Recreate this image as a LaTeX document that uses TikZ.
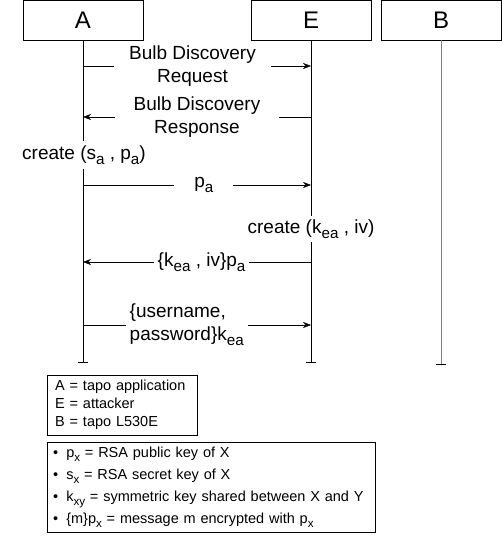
\documentclass[tikz,border=0pt]{standalone}
\usepackage{fontspec}
\setmainfont{Liberation Sans}
\usetikzlibrary{arrows.meta}
\newcommand{\low}[1]{\raisebox{-.28em}{\scalebox{.8}{#1}}}
\tikzset{actor/.style={draw,minimum width=120,minimum height=40,inner sep=0pt,font=\fontsize{24}{28}\selectfont},
msg/.style={-{Stealth[length=8pt,width=6pt]}},
lbl/.style={fill=white,inner ysep=1pt,inner xsep=4pt,font=\fontsize{19}{23}\selectfont,align=center},
legend/.style={draw,anchor=north west,align=left,inner ysep=0pt,font=\fontsize{14.5}{18}\selectfont}}
\begin{document}
\begin{tikzpicture}[x=1pt,y=-1pt]
\useasboundingbox(0,0) rectangle (502,545);
\node[actor](A) at(83,20){A};\node[actor](E) at(311,20){E};\node[actor](B) at(441,20){B};
\coordinate(Aend) at(83,362);\coordinate(Eend) at(311,362);\coordinate(Bend) at(441,364);
\draw(A)--(Aend);\draw(E)--(Eend);\draw[gray](B)--(Bend);
\draw([xshift=-5pt]Aend)--([xshift=5pt]Aend);\draw([xshift=-5pt]Eend)--([xshift=5pt]Eend);\draw([xshift=-5pt]Bend)--([xshift=5pt]Bend);
% messages
\coordinate(a1) at(83,66);\coordinate(e1) at(311,66);
\draw[msg](a1)--node[lbl,inner xsep=15pt,pos=.48]{Bulb Discovery\\Request}(e1);
\coordinate(a2) at(83,117);\coordinate(e2) at(311,117);
\draw[msg](e2)--node[lbl,inner xsep=19pt]{Bulb Discovery\\Response}(a2);
\node[lbl,inner ysep=4pt](cA) at(84,155){create (s\low{a} , p\low{a})};
\coordinate(a3) at(83,185);\coordinate(e3) at(311,185);
\draw[msg](a3)--node[lbl,inner xsep=20pt,pos=.53]{p\low{a}}(e3);
\node[lbl,inner ysep=3pt](cE) at(311,229){create (k\low{ea} , iv)};
\coordinate(a4) at(83,262);\coordinate(e4) at(311,262);
\draw[msg](e4)--node[lbl,pos=.48]{\{k\low{ea} , iv\}p\low{a}}(a4);
\coordinate(a5) at(83,325);\coordinate(e5) at(311,325);
\draw[msg](a5)--node[lbl,align=left,pos=.455]{\{username,\\password\}k\low{ea}}(e5);
% legend
\node[legend,inner xsep=8pt,text width=134pt,minimum height=60](who) at(47,375){A = tapo application\\E = attacker\\B = tapo L530E};
\node[legend,inner xsep=6pt,text width=316pt,minimum height=90,font=\fontsize{14.5}{22}\selectfont](keys) at(47,442){%
\textbullet\hspace{8pt}p\low{x} = RSA public key of X\\
\textbullet\hspace{8pt}s\low{x} = RSA secret key of X\\
\textbullet\hspace{8pt}k\low{xy} = symmetric key shared between X and Y\\
\textbullet\hspace{8pt}\{m\}p\low{x} = message m encrypted with p\low{x}};
\end{tikzpicture}
\end{document}
